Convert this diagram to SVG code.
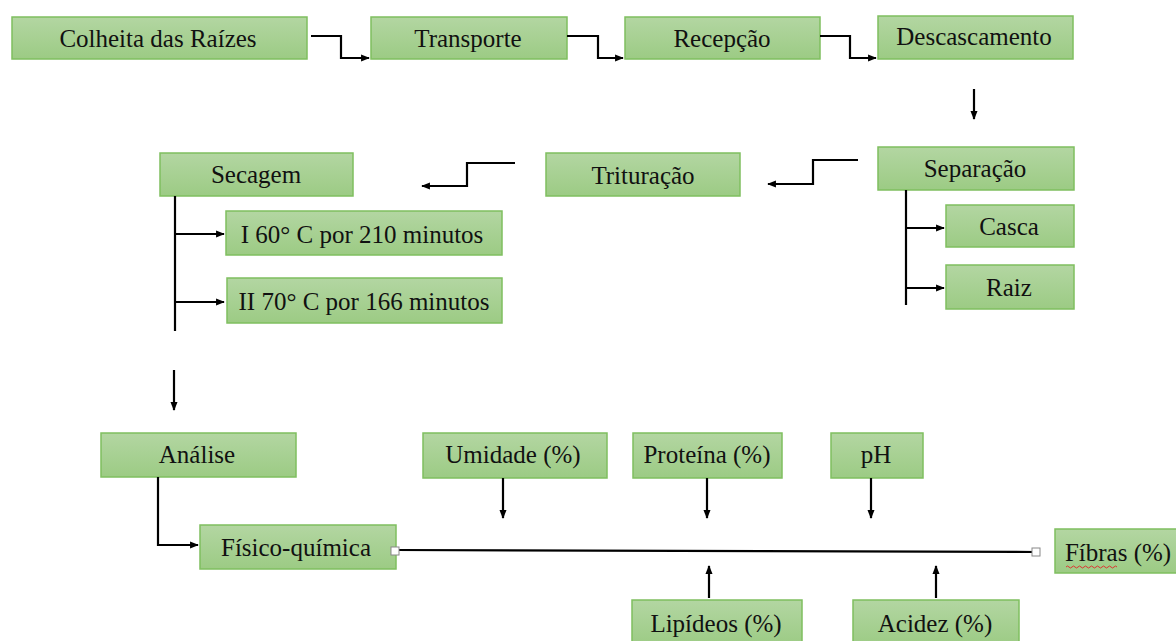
<svg xmlns="http://www.w3.org/2000/svg" width="1176" height="641" viewBox="0 0 1176 641">
<defs>
<linearGradient id="g" x1="0" y1="0" x2="0" y2="1">
<stop offset="0" stop-color="#b3d6a2"/>
<stop offset="1" stop-color="#9ccb84"/>
</linearGradient>
<marker id="arr" viewBox="0 0 10 10" refX="9" refY="5" markerWidth="4" markerHeight="4" orient="auto" markerUnits="strokeWidth">
<path d="M0,1 L10,5 L0,9 z" fill="#000"/>
</marker>
<style>
.box{fill:url(#g);stroke:#7fbf5f;stroke-width:1.5}
.t{font-family:'Liberation Serif','Times New Roman',serif;font-size:25px;fill:#111;text-anchor:middle}
.c{fill:none;stroke:#000;stroke-width:2.2}
.a{fill:none;stroke:#000;stroke-width:2.2;marker-end:url(#arr)}
.h{fill:#fff;stroke:#888;stroke-width:1}
</style>
</defs>
<rect width="1176" height="641" fill="#fff"/>

<g id="n-colheita"><rect class="box" x="12" y="17" width="295" height="42"/><text class="t" x="158" y="47">Colheita das Raízes</text></g>
<g id="n-transporte"><rect class="box" x="371" y="17" width="196" height="42"/><text class="t" x="468" y="47">Transporte</text></g>
<g id="n-recepcao"><rect class="box" x="625" y="17" width="195" height="42"/><text class="t" x="722" y="47">Recepção</text></g>
<g id="n-descascamento"><rect class="box" x="878" y="16" width="195" height="43"/><text class="t" x="974" y="45">Descascamento</text></g>
<g id="n-separacao"><rect class="box" x="878" y="147" width="196" height="43"/><text class="t" x="975" y="177">Separação</text></g>
<g id="n-casca"><rect class="box" x="946" y="205" width="128" height="42"/><text class="t" x="1009" y="235">Casca</text></g>
<g id="n-raiz"><rect class="box" x="946" y="265" width="128" height="44"/><text class="t" x="1009" y="296">Raiz</text></g>
<g id="n-trituracao"><rect class="box" x="546" y="153" width="194" height="43"/><text class="t" x="643" y="184">Trituração</text></g>
<g id="n-secagem"><rect class="box" x="160" y="153" width="193" height="43"/><text class="t" x="256" y="183">Secagem</text></g>
<g id="n-i60"><rect class="box" x="226" y="211" width="276" height="44"/><text class="t" x="362" y="243">I 60° C por 210 minutos</text></g>
<g id="n-ii70"><rect class="box" x="227" y="278" width="275" height="45"/><text class="t" x="364" y="310">II 70° C por 166 minutos</text></g>
<g id="n-analise"><rect class="box" x="101" y="433" width="195" height="44"/><text class="t" x="197" y="463">Análise</text></g>
<g id="n-fisico"><rect class="box" x="200" y="525" width="196" height="44"/><text class="t" x="296" y="556">Físico-química</text></g>
<g id="n-umidade"><rect class="box" x="423" y="433" width="184" height="45"/><text class="t" x="513" y="463">Umidade (%)</text></g>
<g id="n-proteina"><rect class="box" x="633" y="433" width="149" height="45"/><text class="t" x="707" y="463">Proteína (%)</text></g>
<g id="n-ph"><rect class="box" x="831" y="433" width="92" height="45"/><text class="t" x="876" y="463">pH</text></g>
<g id="n-fibras"><rect class="box" x="1055" y="529" width="125" height="44"/><text class="t" x="1118" y="561">Fíbras (%)</text>
<path d="M1066,567 q1.5,-2 3,0 t3,0 t3,0 t3,0 t3,0 t3,0 t3,0 t3,0 t3,0 t3,0 t3,0 t3,0 t3,0 t3,0 t3,0 t3,0 t3,0" fill="none" stroke="#d33" stroke-width="1"/></g>
<g id="n-lipideos"><rect class="box" x="632" y="600" width="170" height="46"/><text class="t" x="716" y="632">Lipídeos (%)</text></g>
<g id="n-acidez"><rect class="box" x="853" y="600" width="166" height="46"/><text class="t" x="935" y="632">Acidez  (%)</text></g>

<g id="connectors">
<path class="a" d="M311,36 H341 V58 H369"/>
<path class="a" d="M567,36 H598 V58 H623"/>
<path class="a" d="M820,36 H850 V58 H876"/>
<path class="a" d="M974,89 V119"/>
<path class="c" d="M906,190 V305"/>
<path class="a" d="M906,228 H944"/>
<path class="a" d="M906,288 H944"/>
<path class="a" d="M858,160 H813 V184 H768"/>
<path class="a" d="M515,163 H467 V186 H422"/>
<path class="c" d="M175,196 V331"/>
<path class="a" d="M175,234 H224"/>
<path class="a" d="M175,302 H224"/>
<path class="a" d="M174,370 V410"/>
<path class="a" d="M158,477 V545 H198"/>
<path class="a" d="M503,478 V518"/>
<path class="a" d="M707,478 V518"/>
<path class="a" d="M871,478 V518"/>
<path class="a" d="M709,598 V566"/>
<path class="a" d="M936,598 V566"/>
<path class="c" d="M396,550 L1036,552"/>
<rect class="h" x="391" y="547" width="8" height="8"/>
<rect class="h" x="1032" y="548" width="8" height="8"/>
</g>
</svg>
